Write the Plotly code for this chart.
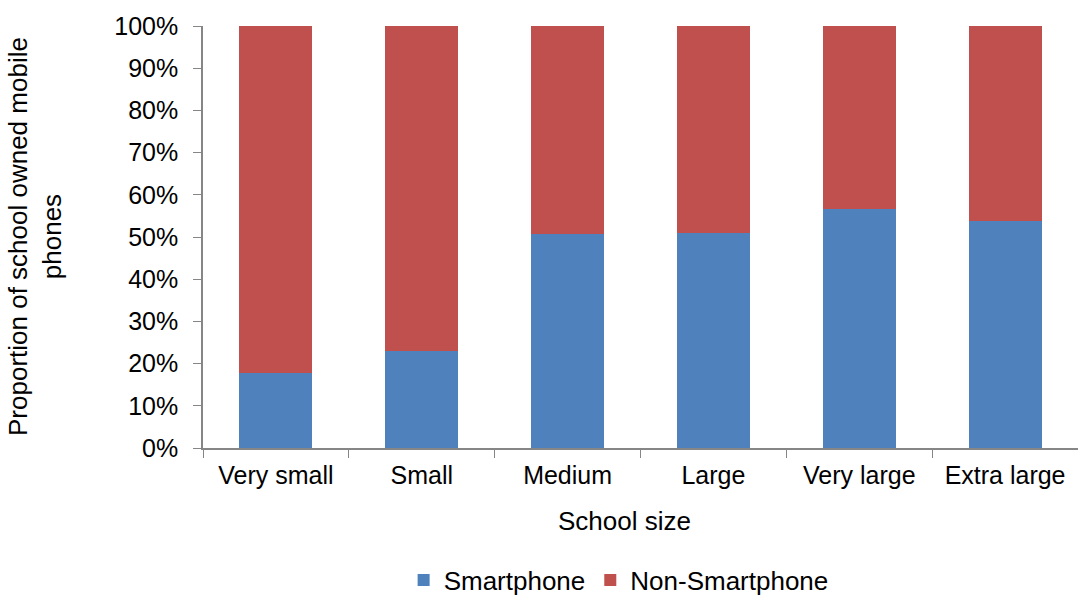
import plotly.graph_objects as go

categories = ["Very small", "Small", "Medium", "Large", "Very large", "Extra large"]
smartphone = [17.8, 23.0, 50.7, 51.0, 56.6, 53.8]
non_smartphone = [round(100 - v, 1) for v in smartphone]
y_ticks = list(range(0, 101, 10))
y_tick_labels = [f"{v}%" for v in y_ticks]

FONT = "Liberation Sans, Arial, sans-serif"
FS = 25

fig = go.Figure()
fig.add_trace(go.Bar(x=categories, y=smartphone, name="Smartphone",
                     marker=dict(color="#4F81BD", line=dict(width=0))))
fig.add_trace(go.Bar(x=categories, y=non_smartphone, name="Non-Smartphone",
                     marker=dict(color="#C0504D", line=dict(width=0))))

fig.update_layout(
    barmode="stack",
    bargap=0.5,
    width=1078, height=597,
    margin=dict(l=203, r=0, t=26, b=149, autoexpand=False),
    paper_bgcolor="white", plot_bgcolor="white",
    font=dict(family=FONT, size=FS, color="black"),
    showlegend=True,
    legend=dict(orientation="h", x=0.475, xanchor="center", y=-0.313, yanchor="middle",
                font=dict(size=26), traceorder="normal", itemwidth=30),
    annotations=[
        dict(text="School size", xref="paper", yref="paper", x=0.482, y=-0.173,
             xanchor="center", yanchor="middle", showarrow=False, font=dict(size=26)),
        dict(text="Proportion of school owned mobile<br>phones", xref="paper", yref="paper",
             x=-0.192, y=0.5, xanchor="center", yanchor="middle", textangle=-90,
             showarrow=False, font=dict(size=26)),
    ],
)
fig.update_xaxes(
    showline=True, linecolor="#868686", linewidth=1.5,
    ticks="outside", tickson="boundaries", ticklen=8, tickcolor="#868686",
    tickfont=dict(size=FS), ticklabelstandoff=4, automargin=False,
)
fig.update_yaxes(
    range=[0, 100], tickvals=y_ticks, ticktext=y_tick_labels,
    showline=True, linecolor="#868686", linewidth=1.5,
    ticks="outside", ticklen=8, tickcolor="#868686",
    showgrid=False, zeroline=False,
    tickfont=dict(size=FS), ticklabelstandoff=10, automargin=False,
)

fig.write_html("out.html", config={"displayModeBar": False},
               post_script="document.body.style.margin='0';document.body.style.overflow='hidden';")
